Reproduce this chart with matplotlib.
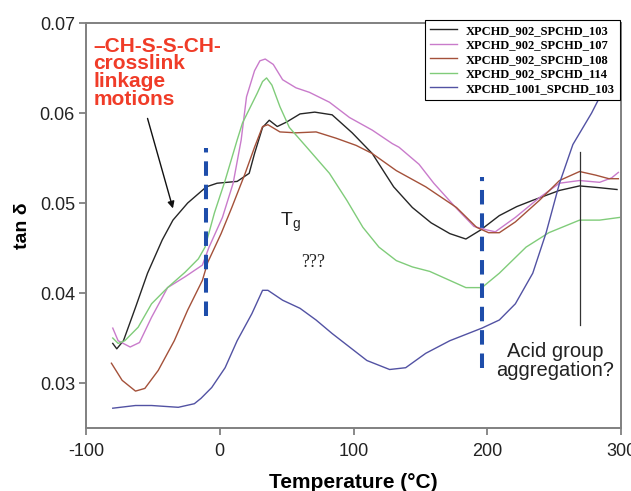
import matplotlib
matplotlib.use("Agg")
import matplotlib.pyplot as plt

# tan delta vs temperature
t_103 = [-80, -77, -72, -63, -54, -43, -35, -24, -10, -2, 13, 22, 26, 32, 37, 43, 50, 60, 71, 84,
         99, 114, 130, 144, 158, 172, 184, 195, 209, 222, 234, 254, 269, 284, 297]
v_103 = [.0344, .0338, .0347, .0384, .0422, .0459, .0481, .0500, .0518, .0522, .0524, .0533, .0555,
         .0584, .0592, .0585, .0590, .0599, .0601, .0598, .0578, .0555, .0518, .0495, .0478, .0466,
         .0460, .0470, .0486, .0496, .0503, .0514, .0519, .0517, .0515]

t_107 = [-80, -76, -67, -60, -51, -39, -26, -13, -8, 2, 10, 16, 20, 26, 30, 34, 40, 47, 57, 67, 82, 97,
         114, 129, 134, 149, 160, 177, 190, 200, 206, 221, 239, 254, 269, 284, 293, 298]
v_107 = [.0361, .0347, .0340, .0345, .0373, .0406, .0418, .0431, .0451, .0484, .0522, .0570, .0618,
         .0647, .0658, .0660, .0654, .0637, .0628, .0623, .0612, .0595, .0581, .0566, .0562, .0543,
         .0522, .0494, .0474, .0470, .0468, .0484, .0506, .0522, .0525, .0523, .0528, .0534]

t_108 = [-81, -73, -63, -56, -46, -34, -24, -13, -9, 1, 9, 19, 26, 32, 36, 45, 57, 72, 87, 102, 114,
         132, 154, 177, 192, 201, 209, 221, 239, 254, 269, 281, 291, 298]
v_108 = [.0322, .0303, .0291, .0294, .0314, .0347, .0381, .0414, .0434, .0466, .0495, .0533, .0562,
         .0585, .0587, .0579, .0578, .0579, .0572, .0564, .0555, .0536, .0518, .0495, .0473, .0467,
         .0467, .0479, .0503, .0525, .0535, .0531, .0527, .0527]

t_114 = [-80, -76, -71, -61, -51, -39, -26, -16, -11, -4, 4, 13, 17, 28, 32, 35, 39, 45, 52, 65, 82, 95,
         107, 119, 132, 144, 157, 172, 184, 196, 209, 229, 246, 269, 284, 299]
v_114 = [.0350, .0344, .0347, .0362, .0388, .0406, .0423, .0438, .0451, .0489, .0525, .0570, .0589,
         .0622, .0635, .0639, .0631, .0607, .0584, .0562, .0533, .0503, .0473, .0451, .0436, .0429,
         .0424, .0414, .0406, .0406, .0422, .0451, .0467, .0481, .0481, .0484]

t_1001 = [-80, -63, -51, -31, -19, -14, -6, 4, 13, 24, 32, 36, 47, 60, 72, 84, 97, 110, 127, 139,
          154, 172, 196, 209, 221, 234, 244, 254, 264, 278, 290]
v_1001 = [.0272, .0275, .0275, .0273, .0277, .0283, .0295, .0317, .0347, .0377, .0403, .0403, .0392,
          .0383, .0370, .0355, .0340, .0325, .0315, .0317, .0333, .0347, .0361, .0370, .0388, .0422,
          .0467, .0522, .0565, .0600, .0635]

series = [
    ("XPCHD_902_SPCHD_103", t_103, v_103, "#262626"),
    ("XPCHD_902_SPCHD_107", t_107, v_107, "#C97BCB"),
    ("XPCHD_902_SPCHD_108", t_108, v_108, "#A4513A"),
    ("XPCHD_902_SPCHD_114", t_114, v_114, "#80CC7A"),
    ("XPCHD_1001_SPCHD_103", t_1001, v_1001, "#5252A3"),
]

x_ticks = [-100, 0, 100, 200, 300]
y_ticks = [0.03, 0.04, 0.05, 0.06, 0.07]

# blue dashed markers and the black marker line
dash_t = [-10, 196]
dash_lo = [0.0375, 0.0317]
dash_hi = [0.0561, 0.0529]
mark_t = 269
mark_lo, mark_hi = 0.0364, 0.0557


def main():
    plt.rcParams['font.family'] = ['Liberation Sans', 'DejaVu Sans']
    plt.rcParams['axes.unicode_minus'] = False

    fig = plt.figure(figsize=(6.31, 4.91), dpi=100)
    ax = fig.add_axes([0.1363, 0.1283, 0.8479, 0.8248])

    for name, t, v, c in series:
        ax.plot(t, v, color=c, lw=1.0, label=name)

    for t, lo, hi in zip(dash_t, dash_lo, dash_hi):
        ax.plot([t, t], [lo, hi], color="#1E4DAA", lw=2.9, dashes=(3.6, 2.2),
                solid_capstyle='butt', dash_capstyle='butt')
    ax.plot([mark_t, mark_t], [mark_lo, mark_hi], color="#333333", lw=0.9)

    ax.set_xlim(-100, 300)
    ax.set_ylim(0.025, 0.07)
    ax.set_xticks(x_ticks)
    ax.set_yticks(y_ticks)
    ax.set_xticklabels([str(x) for x in x_ticks])
    ax.set_yticklabels(["%.2f" % y for y in y_ticks])
    ax.tick_params(labelsize=13, colors="#222222", length=5, width=1.3)
    ax.tick_params(axis='both', color="#808080")
    ax.tick_params(axis='x', pad=6)
    ax.tick_params(axis='y', pad=3)
    for s in ax.spines.values():
        s.set_color("#808080")
        s.set_linewidth(1.4)

    ax.set_xlabel("Temperature (\u00b0C)", fontsize=15, fontweight='bold', labelpad=9)
    ax.set_ylabel("tan \u03b4", fontsize=14, fontweight='bold', labelpad=6)

    ax.text(-94.5, 0.0685, "\u2013CH-S-S-CH-\ncrosslink\nlinkage\nmotions", color="#F03C28",
            fontsize=15, fontweight='bold', va='top', ha='left', linespacing=0.93)
    ax.annotate("", xy=(-35, 0.0494), xytext=(-54, 0.0594),
                arrowprops=dict(arrowstyle='-|>', color='#111111', lw=1.0,
                                mutation_scale=10, shrinkA=0, shrinkB=0))
    ax.text(45, 0.0479, r"T$_\mathregular{g}$", fontsize=14, va='center', ha='left', color="#222222")
    ax.text(70, 0.0434, "???", fontsize=13, family='Liberation Serif', va='center', ha='center',
            color="#222222")
    ax.text(251, 0.0325, "Acid group\naggregation?", fontsize=14.5, va='center', ha='center',
            multialignment='center', linespacing=1.0, color="#222222")

    leg = ax.legend(loc='upper left', bbox_to_anchor=(0.6735, 0.96), bbox_transform=fig.transFigure,
                    borderaxespad=0, fancybox=False, edgecolor='black', framealpha=1,
                    prop={'family': 'Liberation Serif', 'weight': 'bold', 'size': 9},
                    handlelength=2.2, labelspacing=0.2, borderpad=0.4, handletextpad=0.7)
    leg.get_frame().set_linewidth(0.8)

    plt.savefig("out.png", dpi=100)


if __name__ == "__main__":
    main()
